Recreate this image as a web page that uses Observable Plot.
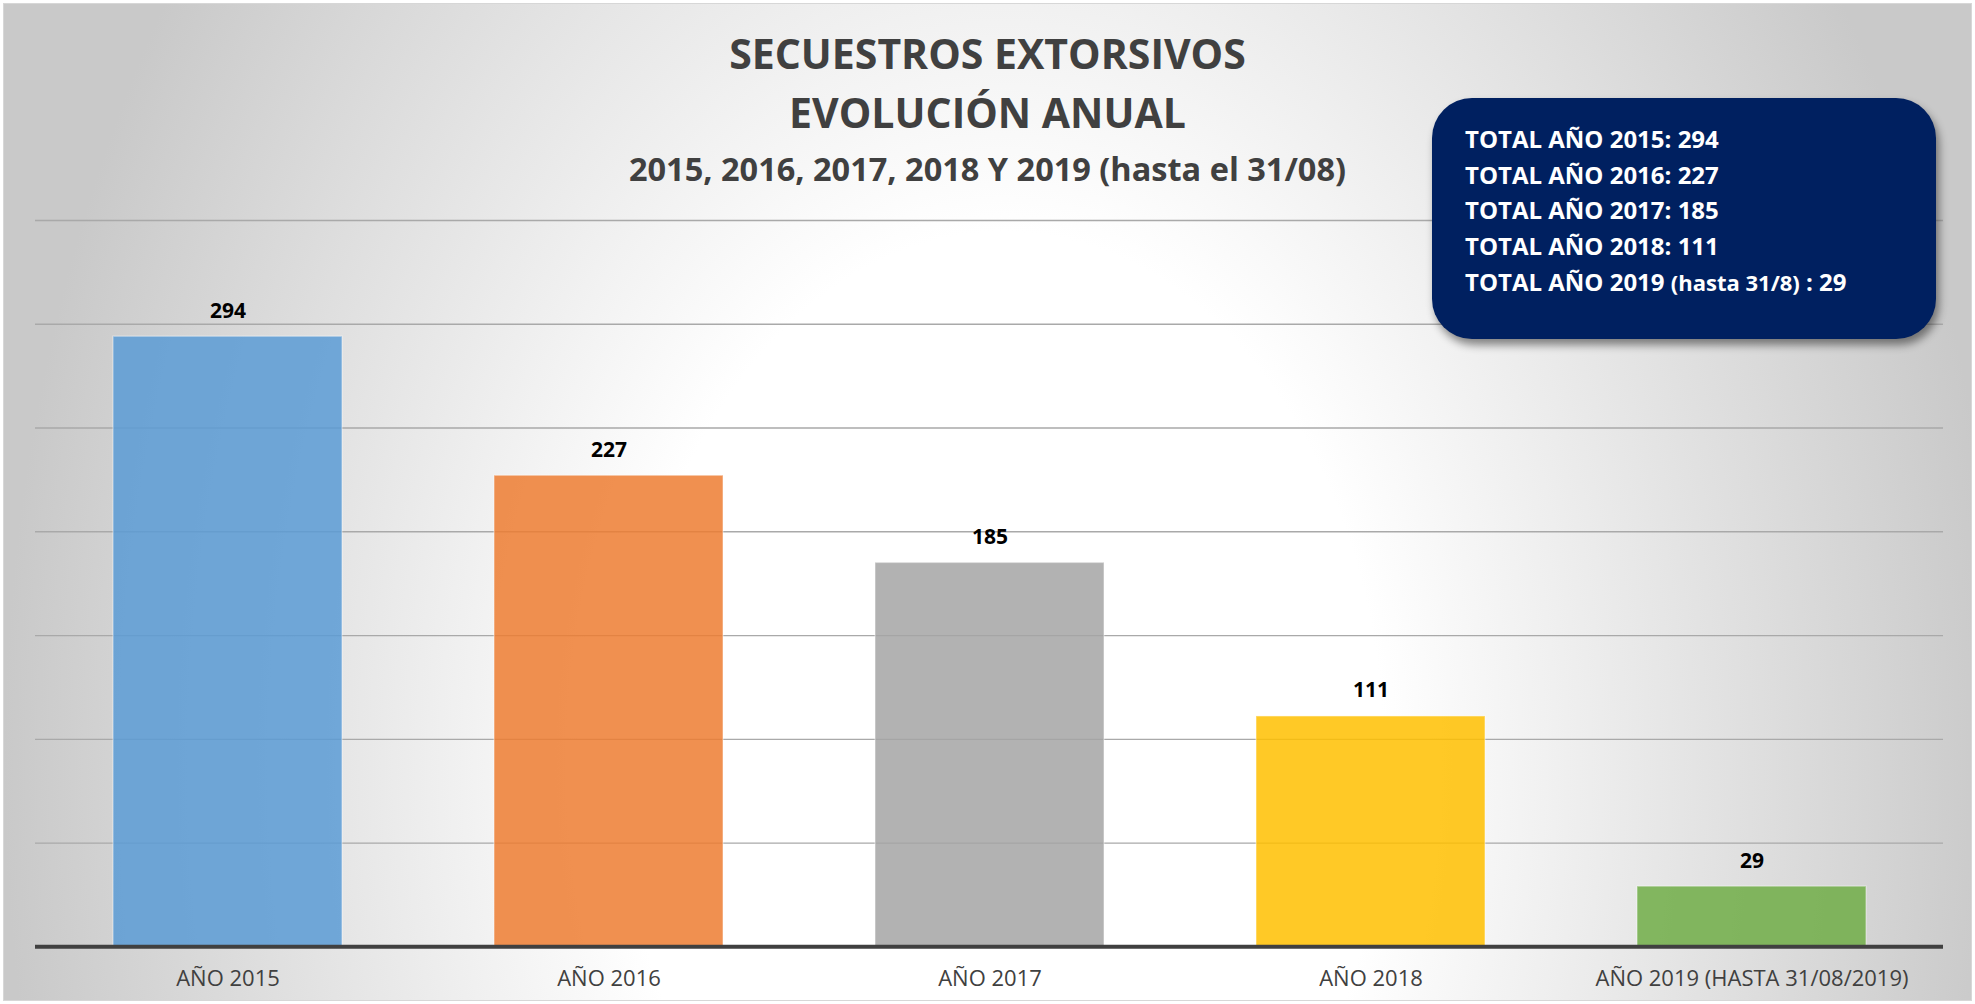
<!DOCTYPE html>
<html>
<head>
<meta charset="utf-8">
<script src="https://cdn.jsdelivr.net/npm/d3@7"></script>
<script src="https://cdn.jsdelivr.net/npm/@observablehq/plot@0.6"></script>
<style>
  html, body { margin: 0; padding: 0; background: #ffffff; }
  body { width: 1975px; height: 1004px; position: relative; overflow: hidden; font-family: "Open Sans", sans-serif; }
  #bg {
    position: absolute; left: 3px; top: 3px; width: 1969px; height: 998px;
    box-sizing: border-box; border: 1px solid #d7d7d7;
    background: radial-gradient(1000px 1400px at 1000px 760px, #ffffff 0%, #ffffff 38%, #c9c9c9 100%);
  }
  .title { position: absolute; left: 0; width: 1975px; text-align: center; color: #404040; font-weight: 700; line-height: 1; white-space: nowrap; }
  #t1 { top: 32.6px; font-size: 41px; }
  #t2 { top: 91.6px; font-size: 41px; }
  #t3 { top: 153.1px; font-size: 32.5px; }
  #plot { position: absolute; left: 0; top: 200px; }
  #box {
    position: absolute; left: 1432px; top: 98px; width: 504px; height: 241px;
    box-sizing: border-box; padding: 22.8px 0 0 33px;
    background: #002060; border-radius: 40px;
    box-shadow: 3px 6px 8px rgba(0,0,0,0.45);
    color: #ffffff; font-weight: 700; font-size: 24px; line-height: 35.7px; white-space: nowrap;
  }
  #box small { font-size: 22px; }
</style>
</head>
<body>
<div id="bg"></div>
<div class="title" id="t1">SECUESTROS EXTORSIVOS</div>
<div class="title" id="t2">EVOLUCIÓN ANUAL</div>
<div class="title" id="t3">2015, 2016, 2017, 2018 Y 2019 (hasta el 31/08)</div>
<div id="plot"></div>
<div id="box"></div>
<script>
// ---- data ----
const categories = ["AÑO 2015", "AÑO 2016", "AÑO 2017", "AÑO 2018", "AÑO 2019 (HASTA 31/08/2019)"];
const values = [294, 227, 185, 111, 29];
const palette = ["#5B9BD5", "#ED7D31", "#A5A5A5", "#FFC000", "#70AD47"];
const gridTicks = [50, 100, 150, 200, 250, 300, 350];
const boxYears = ["2015", "2016", "2017", "2018", "2019"];
const boxNotes = ["", "", "", "", "(hasta 31/8)"];

const data = categories.map((c, i) => ({category: c, value: values[i]}));

// ---- info box ----
document.getElementById("box").innerHTML = boxYears.map((y, i) =>
  boxNotes[i]
    ? `<div>TOTAL AÑO ${y} <small>${boxNotes[i]}</small> : ${values[i]}</div>`
    : `<div>TOTAL AÑO ${y}: ${values[i]}</div>`
).join("");

// ---- chart ----
const chart = Plot.plot({
  width: 1975,
  height: 804,
  marginTop: 20,
  marginBottom: 57.7,
  marginLeft: 35,
  marginRight: 32,
  style: {background: "transparent", fontFamily: "Open Sans, sans-serif"},
  x: {domain: categories, paddingInner: 0.4, paddingOuter: 0.2, label: null},
  y: {domain: [0, 350], axis: null},
  color: {domain: categories, range: palette},
  marks: [
    Plot.ruleY(gridTicks, {stroke: "#a9a9a9", strokeWidth: 1.3}),
    Plot.barY(data, {x: "category", y: "value", fill: "category", fillOpacity: 0.85,
      stroke: "#ffffff", strokeOpacity: 0.35, strokeWidth: 1.5}),
    Plot.ruleY([0], {stroke: "#404040", strokeWidth: 4}),
    Plot.text(data, {x: "category", y: "value", text: d => String(d.value), dy: -19,
      lineAnchor: "bottom", fontWeight: "bold", fontSize: 21, fill: "#000000"}),
    Plot.axisX({tickSize: 0, tickPadding: 24, fontSize: 22, fill: "#404040", label: null})
  ]
});
document.getElementById("plot").appendChild(chart);
</script>
</body>
</html>
